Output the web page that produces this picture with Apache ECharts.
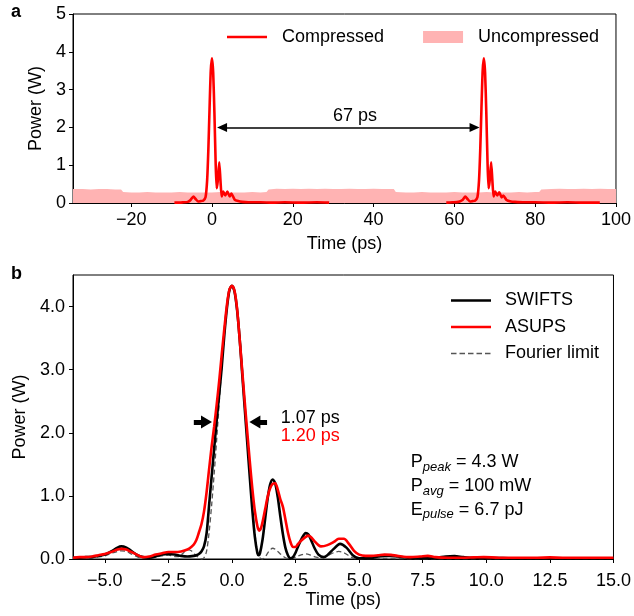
<!DOCTYPE html>
<html><head><meta charset="utf-8">
<script src="https://cdn.jsdelivr.net/npm/echarts@6/dist/echarts.min.js"></script>
<style>html,body{margin:0;padding:0;background:#fff}#c{width:634px;height:616px}</style>
</head><body><div id="c"></div>
<script>
// ---------- Panel a data (time ps, power W) ----------
const compressedPulse1 = [[-9.3,0.01],[-8,0.01],[-7,0.02],[-6,0.03],[-5.3,0.08],[-4.6,0.17],[-4.0,0.1],[-3.4,0.04],[-2.8,0.05],[-2.2,0.06],[-1.6,0.15],[-1.2,0.6],[-0.9,1.4],[-0.6,2.5],[-0.3,3.5],[0,3.83],[0.3,3.45],[0.6,2.4],[0.9,1.1],[1.15,0.39],[1.4,0.55],[1.8,1.08],[2.1,0.6],[2.4,0.17],[2.8,0.3],[3.3,0.2],[3.8,0.3],[4.4,0.17],[4.8,0.25],[5.6,0.09],[6.5,0.05],[7.5,0.03],[9,0.02],[12,0.02],[15,0.01],[18,0.02],[22,0.01],[26,0.02],[29,0.01]];
const compressedPulse2 = [[58,0.01],[59.5,0.02],[61,0.03],[62,0.08],[62.7,0.17],[63.3,0.1],[63.9,0.04],[64.5,0.05],[65.1,0.06],[65.7,0.15],[66.1,0.6],[66.4,1.4],[66.7,2.5],[67.0,3.5],[67.3,3.83],[67.6,3.45],[67.9,2.4],[68.2,1.1],[68.45,0.39],[68.7,0.55],[69.1,1.08],[69.4,0.6],[69.7,0.17],[70.1,0.3],[70.6,0.2],[71.1,0.28],[71.7,0.15],[72.1,0.2],[72.9,0.08],[74,0.04],[75,0.03],[77,0.02],[80,0.02],[84,0.01],[88,0.02],[92,0.01],[96,0.01]];
const uncompressedTime = [-34.4,-32,-30,-28,-26,-24,-22.5,-22,-20,-18,-16,-14,-12,-10,-8,-6,-4,-2,0,2,4,6,8,10,12,13.5,14,16,18,20,22,24,26,28,30,32,34,36,38,40,42,44,45,45.5,48,50,52,54,56,58,60,62,64,66,68,70,72,74,76,78,80,81,81.5,84,86,88,90,92,94,96,98,100];
const uncompressedPower = [0.37,0.37,0.36,0.37,0.37,0.36,0.36,0.29,0.28,0.28,0.29,0.28,0.28,0.28,0.29,0.28,0.28,0.28,0.28,0.29,0.28,0.28,0.28,0.29,0.28,0.29,0.36,0.38,0.37,0.38,0.37,0.38,0.37,0.38,0.37,0.37,0.38,0.37,0.37,0.38,0.37,0.37,0.37,0.29,0.28,0.28,0.29,0.28,0.28,0.28,0.29,0.28,0.28,0.28,0.29,0.28,0.28,0.28,0.29,0.28,0.29,0.29,0.36,0.37,0.38,0.37,0.37,0.38,0.37,0.38,0.37,0.37];
const xTicksA = [-20,0,20,40,60,80,100];
const arrowA = [2.5, 65.0, 2.0];       // from, to, power level
const labelA = [35.4, 2.3, '67 ps'];

// ---------- Panel b data ----------
const swifts = [[-6.25,0.02],[-6,0.02],[-5.75,0.03],[-5.5,0.03],[-5.25,0.05],[-5,0.07],[-4.75,0.12],[-4.5,0.18],[-4.35,0.2],[-4.15,0.18],[-4,0.14],[-3.75,0.07],[-3.5,0.03],[-3.25,0.02],[-3,0.04],[-2.75,0.07],[-2.5,0.08],[-2.25,0.07],[-2,0.05],[-1.75,0.04],[-1.5,0.05],[-1.4,0.06],[-1.3,0.08],[-1.2,0.12],[-1.1,0.2],[-1,0.4],[-0.9,0.85],[-0.8,1.3],[-0.7,1.75],[-0.6,2.2],[-0.5,2.62],[-0.4,3.05],[-0.3,3.55],[-0.2,3.97],[-0.1,4.26],[0,4.33],[0.1,4.24],[0.2,3.95],[0.3,3.5],[0.4,2.95],[0.5,2.4],[0.6,1.85],[0.7,1.3],[0.8,0.78],[0.9,0.35],[1,0.09],[1.05,0.06],[1.1,0.09],[1.2,0.3],[1.3,0.62],[1.4,0.95],[1.5,1.18],[1.6,1.26],[1.7,1.2],[1.8,0.98],[1.9,0.68],[2,0.4],[2.1,0.18],[2.2,0.06],[2.3,0.01],[2.4,0.03],[2.5,0.1],[2.6,0.2],[2.75,0.33],[2.9,0.41],[3,0.39],[3.1,0.31],[3.25,0.17],[3.4,0.07],[3.6,0.03],[3.75,0.06],[4,0.16],[4.25,0.24],[4.5,0.18],[4.75,0.06],[5,0.01],[5.25,0.01],[5.5,0.02],[5.75,0.04],[6,0.05],[6.25,0.05],[6.5,0.04],[7,0.02],[7.5,0.02],[8,0.02],[8.4,0.04],[8.75,0.045],[9.1,0.03],[9.5,0.02],[10,0.02],[10.5,0.015],[11,0.01],[12,0.01],[13,0.01],[14,0.01],[15,0.01]];
const asups = [[-6.25,0.02],[-6,0.03],[-5.75,0.03],[-5.5,0.04],[-5.25,0.06],[-5,0.08],[-4.75,0.11],[-4.5,0.15],[-4.35,0.16],[-4.15,0.15],[-4,0.12],[-3.75,0.07],[-3.5,0.03],[-3.25,0.04],[-3,0.07],[-2.75,0.09],[-2.5,0.11],[-2.25,0.11],[-2,0.12],[-1.75,0.15],[-1.6,0.19],[-1.5,0.23],[-1.4,0.3],[-1.3,0.42],[-1.2,0.55],[-1.1,0.75],[-1,1.05],[-0.9,1.42],[-0.8,1.78],[-0.7,2.1],[-0.6,2.45],[-0.5,2.83],[-0.4,3.25],[-0.3,3.65],[-0.2,4.02],[-0.1,4.27],[0,4.33],[0.1,4.25],[0.2,3.97],[0.3,3.5],[0.4,3.0],[0.5,2.5],[0.6,2.02],[0.7,1.55],[0.8,1.12],[0.9,0.76],[1,0.52],[1.07,0.45],[1.15,0.5],[1.3,0.78],[1.4,0.98],[1.5,1.12],[1.6,1.19],[1.7,1.2],[1.8,1.1],[1.9,0.95],[2,0.83],[2.1,0.63],[2.2,0.42],[2.3,0.27],[2.4,0.19],[2.5,0.19],[2.6,0.24],[2.75,0.3],[2.9,0.35],[3,0.37],[3.1,0.35],[3.25,0.28],[3.4,0.22],[3.5,0.2],[3.75,0.22],[4,0.27],[4.2,0.32],[4.4,0.32],[4.6,0.24],[4.8,0.13],[5,0.07],[5.25,0.05],[5.5,0.05],[5.75,0.06],[6,0.07],[6.25,0.065],[6.5,0.05],[7,0.03],[7.4,0.04],[7.7,0.05],[8,0.03],[8.5,0.02],[9,0.02],[9.5,0.025],[9.9,0.03],[10.5,0.02],[11,0.02],[12,0.02],[12.5,0.025],[13,0.02],[14,0.02],[15,0.02]];
const fourierLimit = [[-6.25,0.01],[-6,0.01],[-5.5,0.02],[-5,0.05],[-4.75,0.09],[-4.5,0.12],[-4.35,0.13],[-4.15,0.12],[-4,0.09],[-3.75,0.04],[-3.5,0.01],[-3.25,0.01],[-3,0.03],[-2.75,0.05],[-2.5,0.06],[-2.25,0.04],[-2.1,0.04],[-1.9,0.1],[-1.75,0.15],[-1.6,0.13],[-1.45,0.07],[-1.3,0.02],[-1.2,0.0],[-1.1,0.02],[-1,0.12],[-0.9,0.42],[-0.8,0.85],[-0.7,1.35],[-0.6,1.9],[-0.5,2.48],[-0.4,3.06],[-0.3,3.57],[-0.2,3.97],[-0.1,4.24],[0,4.33],[0.1,4.24],[0.2,3.97],[0.3,3.57],[0.4,3.06],[0.5,2.48],[0.6,1.9],[0.7,1.35],[0.8,0.85],[0.9,0.42],[1,0.12],[1.1,0.02],[1.2,0.0],[1.3,0.03],[1.45,0.12],[1.6,0.17],[1.75,0.14],[1.9,0.08],[2.1,0.02],[2.3,0.0],[2.5,0.03],[2.75,0.07],[2.9,0.08],[3.1,0.06],[3.3,0.03],[3.5,0.02],[3.75,0.05],[4,0.1],[4.2,0.12],[4.4,0.1],[4.6,0.05],[4.8,0.01],[5,0.0],[5.5,0.01],[6,0.01],[7,0.005],[8,0.005],[10,0.005],[12,0.005],[15,0.005]];
const xTicksB = [-5,-2.5,0,2.5,5,7.5,10,12.5,15];
const yTicksB = [0,1,2,3,4];
const fwhmArrowLeft = [-1.5, -1.0, 2.17];
const fwhmArrowRight = [1.38, 0.9, 2.17];
const fwhmSwifts = [1.92, 2.24, '1.07 ps'];
const fwhmAsups = [1.92, 1.95, '1.20 ps'];
const statsPos = [7.03, 1.53, 1.15, 0.78];

const FONT = 'Liberation Sans, Arial, sans-serif';
const RED = '#ff0000';
const PINK = '#ffb3b3';
const fmtA = v => (v < 0 ? '\u2212' : '') + Math.abs(v);
const fmtB = v => (v < 0 ? '\u2212' : '') + Math.abs(v).toFixed(1);

// legend icons (40x12 box, invisible corner anchors keep the box size)
const ANCH = 'M0,0h0.01v0.01h-0.01z M39.99,11.99h0.01v0.01h-0.01z ';
const ICON_SOLID = 'path://' + ANCH + 'M0,4.7h40v2.6h-40z';
const ICON_DASH = 'path://' + ANCH + 'M0,5.35h5.5v1.3h-5.5z M8.5,5.35h5.5v1.3h-5.5z M17,5.35h5.5v1.3h-5.5z M25.5,5.35h5.5v1.3h-5.5z M34,5.35h5.5v1.3h-5.5z';

const axisCommon = {
  axisLine: {show: true, onZero: false, lineStyle: {color: '#000', width: 1}},
  splitLine: {show: false},
  nameLocation: 'middle',
  nameTextStyle: {fontSize: 18, fontFamily: FONT, color: '#000'}
};

const chart = echarts.init(document.getElementById('c'), null, {renderer: 'canvas'});
chart.setOption({
  backgroundColor: '#fff',
  animation: false,
  textStyle: {fontFamily: FONT},
  grid: [
    {left: 73, top: 14, width: 544, height: 189, show: true, borderColor: '#000', borderWidth: 1, backgroundColor: 'transparent'},
    {left: 73, top: 275, width: 544, height: 284, show: true, borderColor: '#000', borderWidth: 1, backgroundColor: 'transparent'}
  ],
  xAxis: [
    Object.assign({}, axisCommon, {
      type: 'value', gridIndex: 0, min: -34.4, max: 100, name: 'Time (ps)', nameGap: 32,
      axisTick: {show: true, length: 4, lineStyle: {color: '#000'}, customValues: xTicksA},
      axisLabel: {fontSize: 18, color: '#000', margin: 8, customValues: xTicksA, formatter: fmtA}
    }),
    Object.assign({}, axisCommon, {
      type: 'value', gridIndex: 1, min: -6.25, max: 15, name: 'Time (ps)', nameGap: 30,
      axisTick: {show: true, length: 4, lineStyle: {color: '#000'}, customValues: xTicksB},
      axisLabel: {fontSize: 18, color: '#000', margin: 13, customValues: xTicksB, formatter: fmtB}
    })
  ],
  yAxis: [
    Object.assign({}, axisCommon, {
      type: 'value', gridIndex: 0, min: 0, max: 5, interval: 1, name: 'Power (W)', nameGap: 27,
      axisTick: {show: true, length: 4, lineStyle: {color: '#000'}},
      axisLabel: {fontSize: 18, color: '#000', margin: 7}
    }),
    Object.assign({}, axisCommon, {
      type: 'value', gridIndex: 1, min: 0, max: 4.5, name: 'Power (W)', nameGap: 44,
      axisTick: {show: true, length: 4, lineStyle: {color: '#000'}, customValues: yTicksB},
      axisLabel: {fontSize: 18, color: '#000', margin: 8, customValues: yTicksB, formatter: v => v.toFixed(1)}
    })
  ],
  legend: [
    {
      left: 227, top: 28, padding: 0, itemWidth: 40, itemHeight: 12, itemGap: 39,
      textStyle: {fontSize: 18, color: '#000', fontFamily: FONT, padding: [0, 0, 0, 10]},
      data: [{name: 'Compressed', icon: ICON_SOLID}, {name: 'Uncompressed', icon: 'rect', itemStyle: {color: PINK}}],
      selectedMode: false
    },
    {
      left: 451, top: 290, padding: 0, orient: 'vertical', itemWidth: 40, itemHeight: 12, itemGap: 5.5,
      textStyle: {fontSize: 18, color: '#000', fontFamily: FONT, padding: [0, 0, 0, 9], lineHeight: 21},
      data: [{name: 'SWIFTS', icon: ICON_SOLID}, {name: 'ASUPS', icon: ICON_SOLID}, {name: 'Fourier limit', icon: ICON_DASH}],
      selectedMode: false
    }
  ],
  title: [
    {text: 'a', left: 6, top: -2, textStyle: {fontSize: 18, fontWeight: 'bold', color: '#000', fontFamily: FONT}},
    {text: 'b', left: 6, top: 260, textStyle: {fontSize: 18, fontWeight: 'bold', color: '#000', fontFamily: FONT}}
  ],
  series: [
    {
      name: 'Uncompressed', type: 'line', xAxisIndex: 0, yAxisIndex: 0, symbol: 'none',
      data: uncompressedTime.map((t, i) => [t, uncompressedPower[i]]),
      lineStyle: {width: 0, color: PINK}, itemStyle: {color: PINK},
      areaStyle: {color: PINK, opacity: 1}, z: 1
    },
    {
      name: 'Compressed', type: 'line', xAxisIndex: 0, yAxisIndex: 0, symbol: 'none', smooth: 0.2,
      data: compressedPulse1, lineStyle: {width: 2.6, color: RED}, itemStyle: {color: RED}, z: 3,
      markLine: {
        silent: true, symbol: ['triangle', 'triangle'], symbolSize: [9, 10],
        lineStyle: {color: '#000', width: 1.5, type: 'solid'}, label: {show: false},
        data: [[{coord: [arrowA[0], arrowA[2]]}, {coord: [arrowA[1], arrowA[2]]}]]
      },
      markPoint: {
        silent: true, symbol: 'circle', symbolSize: 0,
        label: {show: true, position: 'inside', fontSize: 18, color: '#000', formatter: p => p.name},
        data: [{name: labelA[2], coord: [labelA[0], labelA[1]]}]
      }
    },
    {
      name: 'Compressed', type: 'line', xAxisIndex: 0, yAxisIndex: 0, symbol: 'none', smooth: 0.2,
      data: compressedPulse2, lineStyle: {width: 2.6, color: RED}, itemStyle: {color: RED}, z: 3
    },
    {
      name: 'Fourier limit', type: 'line', xAxisIndex: 1, yAxisIndex: 1, symbol: 'none', smooth: 0.3,
      data: fourierLimit, lineStyle: {width: 1.3, color: '#555', type: [5, 3]}, itemStyle: {color: '#555'}, z: 2
    },
    {
      name: 'SWIFTS', type: 'line', xAxisIndex: 1, yAxisIndex: 1, symbol: 'none', smooth: 0.3,
      data: swifts, lineStyle: {width: 2.6, color: '#000'}, itemStyle: {color: '#000'}, z: 3,
      markLine: {
        silent: true, symbol: ['none', 'triangle'], symbolSize: [13, 11],
        lineStyle: {color: '#000', width: 5, type: 'solid'}, label: {show: false},
        data: [
          [{coord: [fwhmArrowLeft[0], fwhmArrowLeft[2]]}, {coord: [fwhmArrowLeft[1], fwhmArrowLeft[2]]}],
          [{coord: [fwhmArrowRight[0], fwhmArrowRight[2]]}, {coord: [fwhmArrowRight[1], fwhmArrowRight[2]]}]
        ]
      },
      markPoint: {
        silent: true, symbol: 'circle', symbolSize: 0,
        label: {
          show: true, position: [0, 0], align: 'left', verticalAlign: 'middle', fontSize: 18, color: '#000',
          rich: {
            m: {fontSize: 18, color: '#000', fontFamily: FONT, lineHeight: 22},
            s: {fontSize: 13, color: '#000', fontFamily: FONT, fontStyle: 'italic', padding: [9, 0, 0, 0], lineHeight: 22}
          }
        },
        data: [
          {name: 'w1', coord: [fwhmSwifts[0], fwhmSwifts[1]], label: {formatter: fwhmSwifts[2], color: '#000'}},
          {name: 'w2', coord: [fwhmAsups[0], fwhmAsups[1]], label: {formatter: fwhmAsups[2], color: RED}},
          {name: 's1', coord: [statsPos[0], statsPos[1]], label: {formatter: '{m|P}{s|peak}{m| = 4.3 W}'}},
          {name: 's2', coord: [statsPos[0], statsPos[2]], label: {formatter: '{m|P}{s|avg}{m| = 100 mW}'}},
          {name: 's3', coord: [statsPos[0], statsPos[3]], label: {formatter: '{m|E}{s|pulse}{m| = 6.7 pJ}'}}
        ],
        itemStyle: {color: 'transparent'}
      }
    },
    {
      name: 'ASUPS', type: 'line', xAxisIndex: 1, yAxisIndex: 1, symbol: 'none', smooth: 0.3,
      data: asups, lineStyle: {width: 2.6, color: RED}, itemStyle: {color: RED}, z: 4
    }
  ]
});
</script></body></html>
